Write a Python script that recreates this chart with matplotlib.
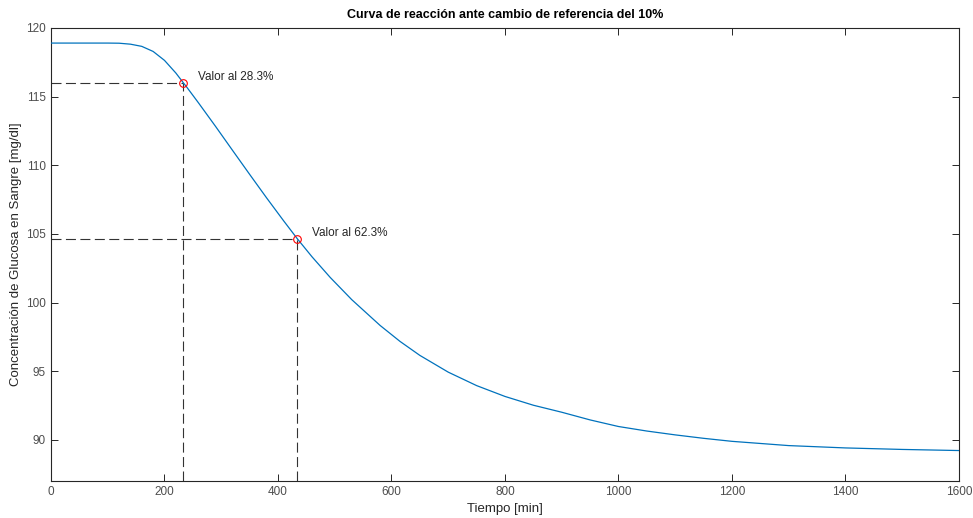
import matplotlib
matplotlib.use("Agg")
import matplotlib.pyplot as plt

# Data
t_min = [0, 50, 100, 120, 140, 160, 180, 200, 220, 233, 240, 260, 290, 320, 350,
         380, 410, 434, 460, 492, 530, 580, 615, 650, 700, 750, 800, 850, 900,
         950, 1000, 1050, 1100, 1150, 1200, 1300, 1400, 1500, 1600]
glucose = [118.9, 118.9, 118.9, 118.89, 118.82, 118.66, 118.29, 117.64, 116.72, 116.02,
           115.65, 114.54, 112.83, 111.08, 109.34, 107.62, 105.95, 104.65, 103.33, 101.83,
           100.21, 98.33, 97.17, 96.15, 94.93, 93.95, 93.16, 92.52, 92.01, 91.45,
           90.97, 90.64, 90.36, 90.11, 89.89, 89.58, 89.41, 89.30, 89.22]

mark_t = [233, 434]
mark_y = [116.02, 104.65]
mark_labels = ["Valor al 28.3%", "Valor al 62.3%"]

title = "Curva de reacción ante cambio de referencia del 10%"
xlabel = "Tiempo [min]"
ylabel = "Concentración de Glucosa en Sangre [mg/dl]"
xticks = list(range(0, 1601, 200))
yticks = [90, 95, 100, 105, 110, 115, 120]

plt.rcParams['font.family'] = ['Liberation Sans', 'DejaVu Sans']
fig = plt.figure(figsize=(9.73, 5.18), dpi=100)
ax = fig.add_axes([0.0524, 0.0714, 0.9332, 0.8746])

ymin, ymax = 87, 120
xmin, xmax = 0, 1600
dash_col = '#333333'
for tx, vy in zip(mark_t, mark_y):
    ax.plot([xmin, tx], [vy, vy], linestyle=(0, (9, 4)), color=dash_col, lw=0.8, zorder=2)
    ax.plot([tx, tx], [ymin, vy], linestyle=(0, (9, 4)), color=dash_col, lw=0.8, zorder=2)

ax.plot(t_min, glucose, color='#0072BD', lw=0.9, zorder=3)
ax.plot(mark_t, mark_y, linestyle='none', marker='o', markersize=5.5,
        markerfacecolor='none', markeredgecolor='#FF0000', markeredgewidth=0.8, zorder=4)

for tx, vy, lab in zip(mark_t, mark_y, mark_labels):
    ax.text(tx + 26, vy + 0.4, lab, fontsize=8.5, color='#262626', va='center', ha='left')

ax.set_xlim(xmin, xmax)
ax.set_ylim(ymin, ymax)
ax.set_xticks(xticks)
ax.set_yticks(yticks)
ax.tick_params(direction='in', top=True, right=True, length=5, width=0.7,
               colors='#262626', labelsize=8.5, labelcolor='#4d4d4d')
for s in ax.spines.values():
    s.set_color('#262626')
    s.set_linewidth(0.8)

ax.set_title(title, fontsize=9, fontweight='bold', color='#000000', pad=7)
ax.set_xlabel(xlabel, fontsize=9.5, color='#262626', labelpad=4)
ax.set_ylabel(ylabel, fontsize=9.5, color='#262626', labelpad=3)

fig.savefig("out.png", dpi=100)
